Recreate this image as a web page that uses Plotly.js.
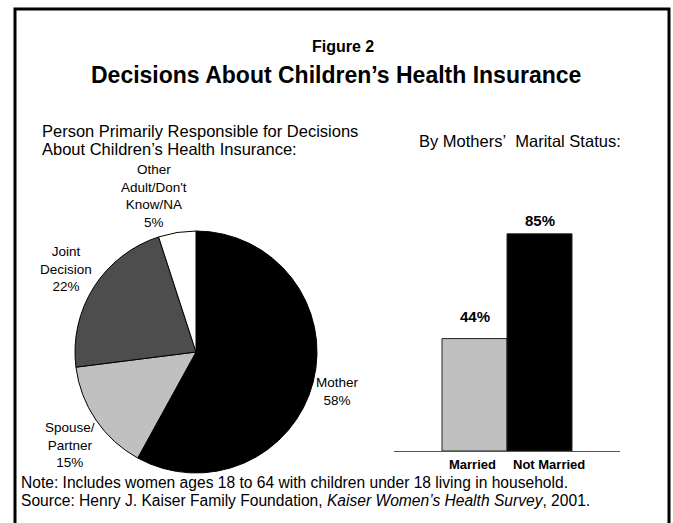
<!DOCTYPE html>
<html>
<head>
<meta charset="utf-8">
<script src="https://cdn.plot.ly/plotly-3.0.1.min.js"></script>
<style>html,body{margin:0;padding:0;background:#fff;}#chart{width:673px;height:523px;}</style>
</head>
<body>
<div id="chart"></div>
<script>
// ---- data ----
var pieLabels = ["Mother", "Spouse/Partner", "Joint Decision", "Other Adult/Don't Know/NA"];
var pieLabelLines = ["Mother", "Spouse/<br>Partner", "Joint<br>Decision", "Other<br>Adult/Don't<br>Know/NA"];
var pieValues = [58, 15, 22, 5];
var pieColors = ["#000000", "#c0c0c0", "#4d4d4d", "#ffffff"];
var barCategories = ["Married", "Not Married"];
var barValues = [44, 85];
var barColors = ["#c0c0c0", "#000000"];

var W = 673, H = 523;
function px(x) { return x / W; }
function py(y) { return (H - y) / H; }
var FONT = "Liberation Sans, Arial, sans-serif";

// pie label positions (pixel centers)
var pieLabelPos = [[337, 391], [70, 445], [66, 269], [154, 196]];
var barLabelShift = [12, 3];
var catLabelShift = [-2, 9];

var annotations = [];
function txt(t, x, y, size, anchor) {
  annotations.push({text: t, xref: "paper", yref: "paper", x: px(x), y: py(y), xanchor: anchor || "center", yanchor: "middle", align: anchor || "center", showarrow: false, font: {family: FONT, size: size, color: "#000"}});
}
txt("<b>Figure 2</b>", 343, 47, 16);
txt("<b>Decisions About Children\u2019s Health Insurance</b>", 336, 75, 23);
txt("Person Primarily Responsible for Decisions", 40, 131, 16.5, "left");
txt("About Children\u2019s Health Insurance:", 40, 148.5, 16.5, "left");
txt("By Mothers\u2019\u00a0 Marital Status:", 520, 141, 16.5);
for (var i = 0; i < pieLabels.length; i++) {
  txt(pieLabelLines[i] + "<br>" + pieValues[i] + "%", pieLabelPos[i][0], pieLabelPos[i][1], 13.5);
}
for (var j = 0; j < barCategories.length; j++) {
  annotations.push({text: "<b>" + barValues[j] + "%</b>", xref: "x", yref: "y", x: barCategories[j], y: barValues[j], xanchor: "center", yanchor: "bottom", yshift: barLabelShift[j], showarrow: false, font: {family: FONT, size: 15, color: "#000"}});
  annotations.push({text: "<b>" + barCategories[j] + "</b>", xref: "x", yref: "y", x: barCategories[j], y: 0, xanchor: "center", yanchor: "top", yshift: -4, xshift: catLabelShift[j], showarrow: false, font: {family: FONT, size: 13, color: "#000"}});
}
txt("Note: Includes women ages 18 to 64 with children under 18 living in household.", 19, 482, 15.6, "left");
txt("Source: Henry J. Kaiser Family Foundation, <i>Kaiser Women\u2019s Health Survey</i>, 2001.", 19, 500, 15.6, "left");

var data = [
  {type: "pie", labels: pieLabels, values: pieValues, sort: false, direction: "clockwise", rotation: 0,
   marker: {colors: pieColors, line: {color: "#000", width: 1}}, textinfo: "none", hoverinfo: "label+percent",
   domain: {x: [px(75), px(317)], y: [py(473), py(231)]}, showlegend: false},
  {type: "bar", x: barCategories, y: barValues, width: 1, marker: {color: barColors, line: {color: "#222", width: 1}},
   xaxis: "x", yaxis: "y", showlegend: false, hoverinfo: "x+y"}
];

var layout = {
  width: W, height: H,
  margin: {l: 0, r: 0, t: 0, b: 0},
  paper_bgcolor: "#fff", plot_bgcolor: "rgba(0,0,0,0)",
  showlegend: false,
  xaxis: {domain: [px(394), px(620)], range: [-1.2385, 2.2385], showline: true, linecolor: "#555", linewidth: 1,
          showgrid: false, zeroline: false, ticks: "", showticklabels: false, fixedrange: true},
  yaxis: {domain: [py(451), py(195.5)], range: [0, 100], visible: false, showgrid: false, zeroline: false, fixedrange: true},
  annotations: annotations,
  shapes: [{type: "rect", xref: "paper", yref: "paper", x0: px(15), x1: px(669), y0: -0.05, y1: py(9), line: {color: "#000", width: 3}, fillcolor: "rgba(0,0,0,0)"}]
};

Plotly.newPlot("chart", data, layout, {displayModeBar: false, staticPlot: true});
</script>
</body>
</html>
